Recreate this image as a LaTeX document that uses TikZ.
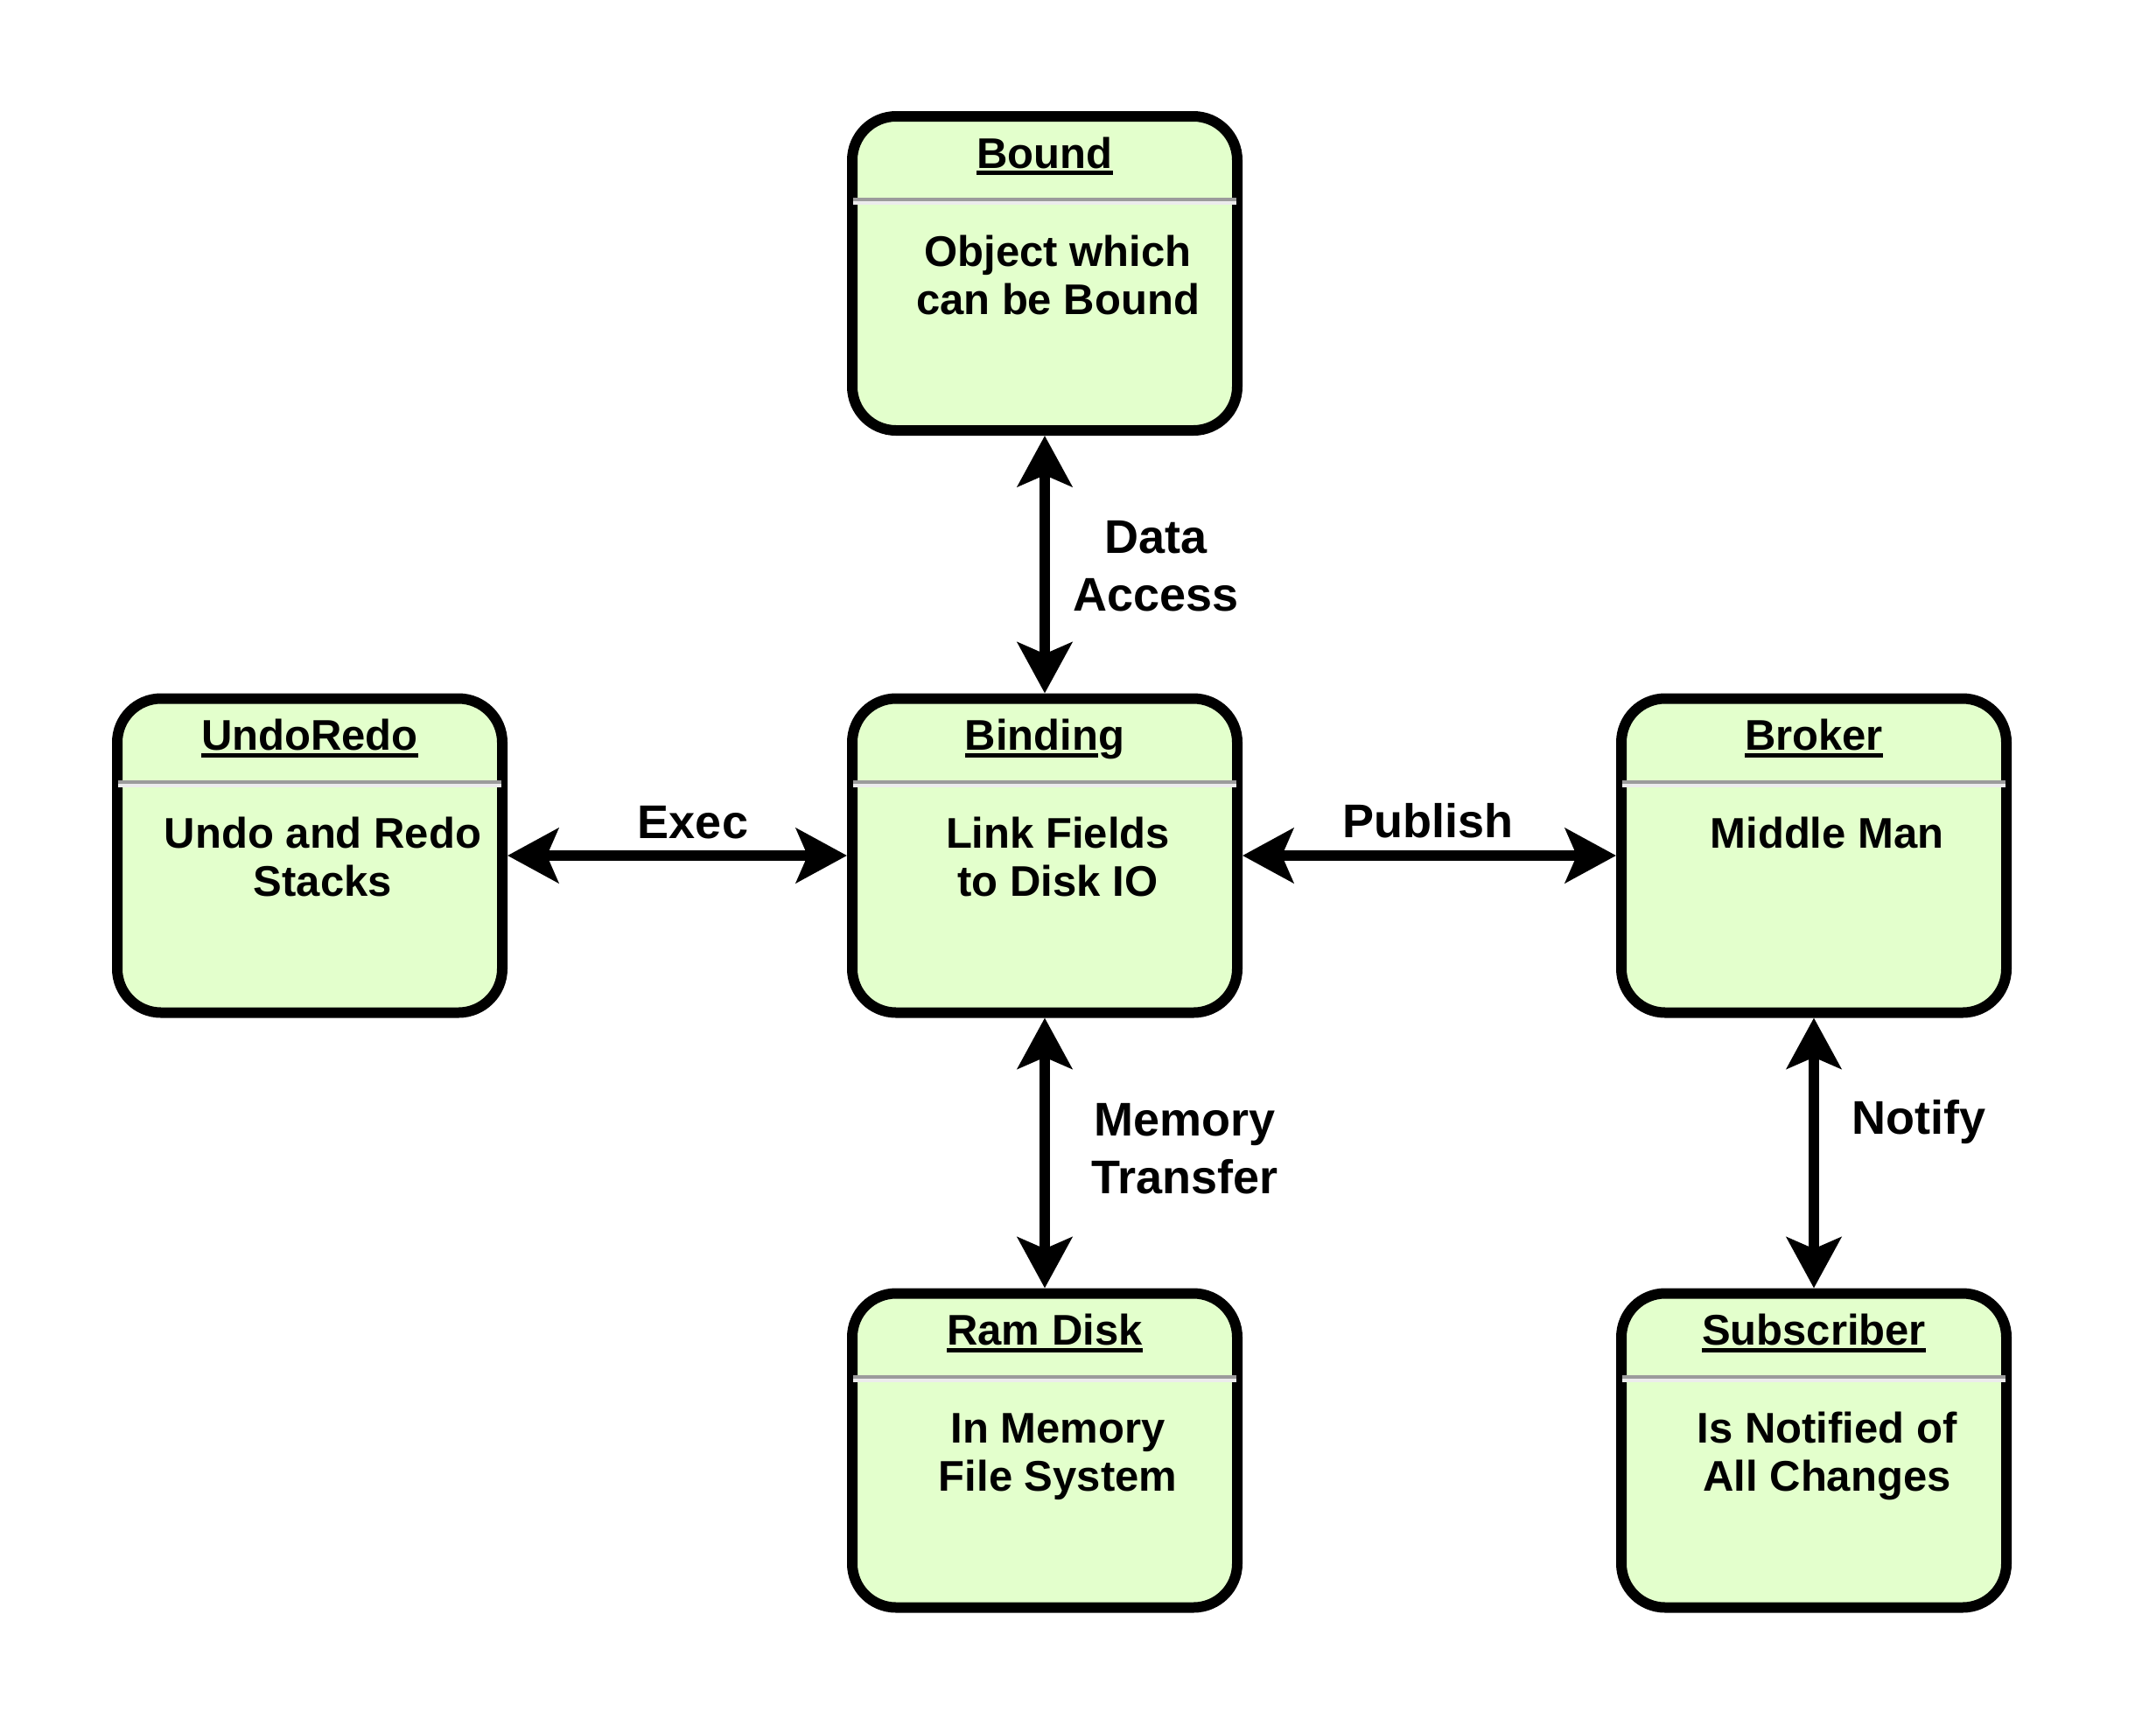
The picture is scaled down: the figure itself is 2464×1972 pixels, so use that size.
\documentclass[tikz,border=0pt]{standalone}
\usepackage{fontspec}
\setmainfont{Liberation Sans}
\usetikzlibrary{arrows.meta}
\definecolor{boxfill}{RGB}{227,255,204}
\definecolor{sepdark}{RGB}{155,155,155}
\definecolor{seplight}{RGB}{236,236,236}
\newcommand\ulbox[1]{\setbox0\hbox{#1}\rlap{\rule[-2pt]{\wd0}{1.25pt}}\box0}
\tikzset{
  box/.style={draw=black, line width=3pt, fill=boxfill, rounded corners=12.5pt,
    minimum width=110pt, minimum height=89.75pt, inner sep=0pt, outer sep=1.5pt},
  titletext/.style={font=\bfseries\fontsize{12.25pt}{13.75pt}\selectfont, inner sep=0pt, anchor=base},
  bodytext/.style={font=\bfseries\fontsize{12.25pt}{13.75pt}\selectfont, inner sep=0pt, anchor=base, align=center},
  lbl/.style={font=\bfseries\fontsize{13.5pt}{16.5pt}\selectfont, inner sep=0pt, anchor=base, align=center},
  sepd/.style={draw=sepdark, line width=1pt},
  sepl/.style={draw=seplight, line width=1pt},
  conn/.style={line width=3pt, {Stealth[length=14.5pt,width=15.5pt,inset=3.25pt]}-{Stealth[length=14.5pt,width=15.5pt,inset=3.25pt]}}
}
% #1 = offset of last body baseline from box centre (px, downward)
\newcommand\umlbox[6][46.5]{%
  \node[box] (#2) at (#3,#4) {};
  \draw[sepd] ([shift={(-219,-84.5)}]#2.center) -- ([shift={(219,-84.5)}]#2.center);
  \draw[sepl] ([shift={(-219,-80.5)}]#2.center) -- ([shift={(219,-80.5)}]#2.center);
  \node[titletext] (#2-title) at ([shift={(0,-120.5)}]#2.center) {#5};
  \node[bodytext] (#2-body) at ([shift={(15,#1)}]#2.center) {#6};
}
\begin{document}
\begin{tikzpicture}[x=0.25pt,y=-0.25pt]
\useasboundingbox[fill=white] (0,0) rectangle (2464,1972);
\umlbox{bound}{1194}{312.5}{\ulbox{Bound}}{Object which\\can be Bound}
\umlbox{binding}{1194}{978}{\ulbox{Bindin}g}{Link Fields\\to Disk IO}
\umlbox{undoredo}{354}{978}{\ulbox{UndoRedo}}{Undo and Redo\\Stacks}
\umlbox[-8.5]{broker}{2073}{978}{\ulbox{Broker}}{Middle Man}
\umlbox{ramdisk}{1194}{1658}{\ulbox{Ram Disk}}{In Memory\\File System}
\umlbox{subscriber}{2073}{1658}{\ulbox{Subscriber}}{Is Notified of\\All Changes}

\draw[conn] (bound.south) -- (binding.north);
\draw[conn] (undoredo.east) -- (binding.west);
\draw[conn] (binding.east) -- (broker.west);
\draw[conn] (binding.south) -- (ramdisk.north);
\draw[conn] (broker.south) -- (subscriber.north);

\node[lbl] (l-data) at (1321,698) {Data\\Access};
\node[lbl] (l-exec) at (792,958) {Exec};
\node[lbl] (l-pub) at (1632,957) {Publish};
\node[lbl] (l-mem) at (1354,1364) {Memory\\Transfer};
\node[lbl] (l-notify) at (2193,1296) {Notify};
\end{tikzpicture}
\end{document}
